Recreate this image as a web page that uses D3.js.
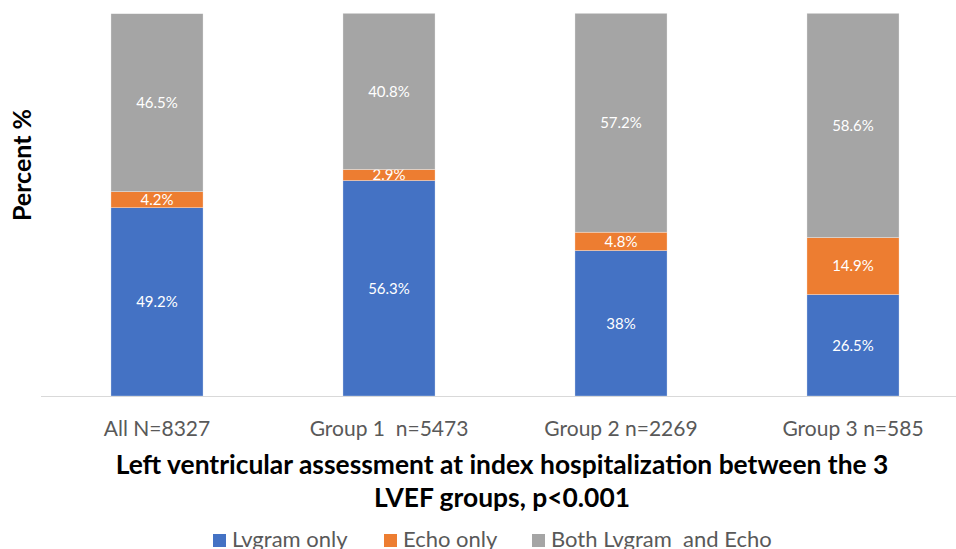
<!DOCTYPE html>
<html>
<head>
<meta charset="utf-8">
<script src="https://cdn.jsdelivr.net/npm/d3@7"></script>
<style>
  html, body { margin: 0; padding: 0; background: #fff; }
  svg { display: block; }
  text { font-family: Lato, "Open Sans", sans-serif; }
</style>
</head>
<body>
<svg id="chart" width="956" height="549"></svg>
<script>
// Categories and stacked series (percent of each group)
const categories = ["All N=8327", "Group 1  n=5473", "Group 2 n=2269", "Group 3 n=585"];
const seriesNames = ["Lvgram only", "Echo only", "Both Lvgram  and Echo"];
const lvgramOnly = [49.2, 56.3, 38, 26.5];
const echoOnly = [4.2, 2.9, 4.8, 14.9];
const bothLvgramEcho = [46.5, 40.8, 57.2, 58.6];
const labelText = [
  ["49.2%", "56.3%", "38%", "26.5%"],
  ["4.2%", "2.9%", "4.8%", "14.9%"],
  ["46.5%", "40.8%", "57.2%", "58.6%"]
];
const colors = ["#4472C4", "#ED7D31", "#A5A5A5"];
const titleLines = ["Left ventricular assessment at index hospitalization between the 3", "LVEF groups, p<0.001"];
const yTitle = "Percent %";

const svg = d3.select("#chart");
const plot = { left: 41, right: 969, top: 13.3, bottom: 396 };

const x = d3.scaleBand().domain(categories).range([plot.left, plot.right]).paddingInner(0.603).paddingOuter(0.3015);
const y = d3.scaleLinear().domain([0, 100]).range([plot.bottom, plot.top]);

const rows = categories.map((c, i) => ({
  cat: c, s0: lvgramOnly[i], s1: echoOnly[i], s2: bothLvgramEcho[i], i
}));
const stack = d3.stack().keys(["s0", "s1", "s2"]);
const stacked = stack(rows);

const g = svg.append("g");
stacked.forEach((layer, k) => {
  g.selectAll(null).data(layer).enter().append("rect")
    .attr("x", d => x(d.data.cat))
    .attr("width", x.bandwidth())
    .attr("y", d => y(d[1]))
    .attr("height", d => y(d[0]) - y(d[1]))
    .attr("fill", colors[k])
    .attr("stroke", "#fff")
    .attr("stroke-opacity", 0.5)
    .attr("stroke-width", 0.6);
  g.selectAll(null).data(layer).enter().append("text")
    .attr("x", d => x(d.data.cat) + x.bandwidth() / 2)
    .attr("y", d => (y(d[0]) + y(d[1])) / 2)
    .attr("dy", "0.36em")
    .attr("text-anchor", "middle")
    .attr("fill", "#fff")
    .attr("font-size", 15)
    .text(d => labelText[k][d.data.i]);
});

// category axis
const xAxis = svg.append("g")
  .attr("transform", `translate(0,${plot.bottom})`)
  .call(d3.axisBottom(x).tickSize(0).tickPadding(0));
xAxis.select(".domain").attr("stroke", "#D9D9D9").attr("stroke-width", 1.2)
  .attr("d", `M${plot.left},0.5H956`);
xAxis.selectAll("text")
  .attr("dy", null)
  .attr("y", 40)
  .attr("font-family", "Lato, sans-serif")
  .attr("font-size", 21)
  .attr("fill", "#595959")
  .style("white-space", "pre");

// axis titles
svg.append("text")
  .attr("transform", "translate(31,165) rotate(-90)")
  .attr("text-anchor", "middle")
  .attr("font-size", 25)
  .attr("font-weight", "bold")
  .attr("fill", "#000")
  .text(yTitle);

titleLines.forEach((t, i) => {
  svg.append("text")
    .attr("x", 502)
    .attr("y", 474 + i * 33)
    .attr("text-anchor", "middle")
    .attr("font-size", 26.4)
    .attr("font-weight", "bold")
    .attr("fill", "#000")
    .text(t);
});

// legend
const legendX = [213, 384, 532];
const legend = svg.append("g");
seriesNames.forEach((n, k) => {
  legend.append("rect")
    .attr("x", legendX[k]).attr("y", 534)
    .attr("width", 13).attr("height", 13)
    .attr("fill", colors[k]);
  legend.append("text")
    .attr("x", legendX[k] + 19).attr("y", 547)
    .attr("font-size", 22)
    .attr("fill", "#595959")
    .style("white-space", "pre")
    .text(n);
});
</script>
</body>
</html>
